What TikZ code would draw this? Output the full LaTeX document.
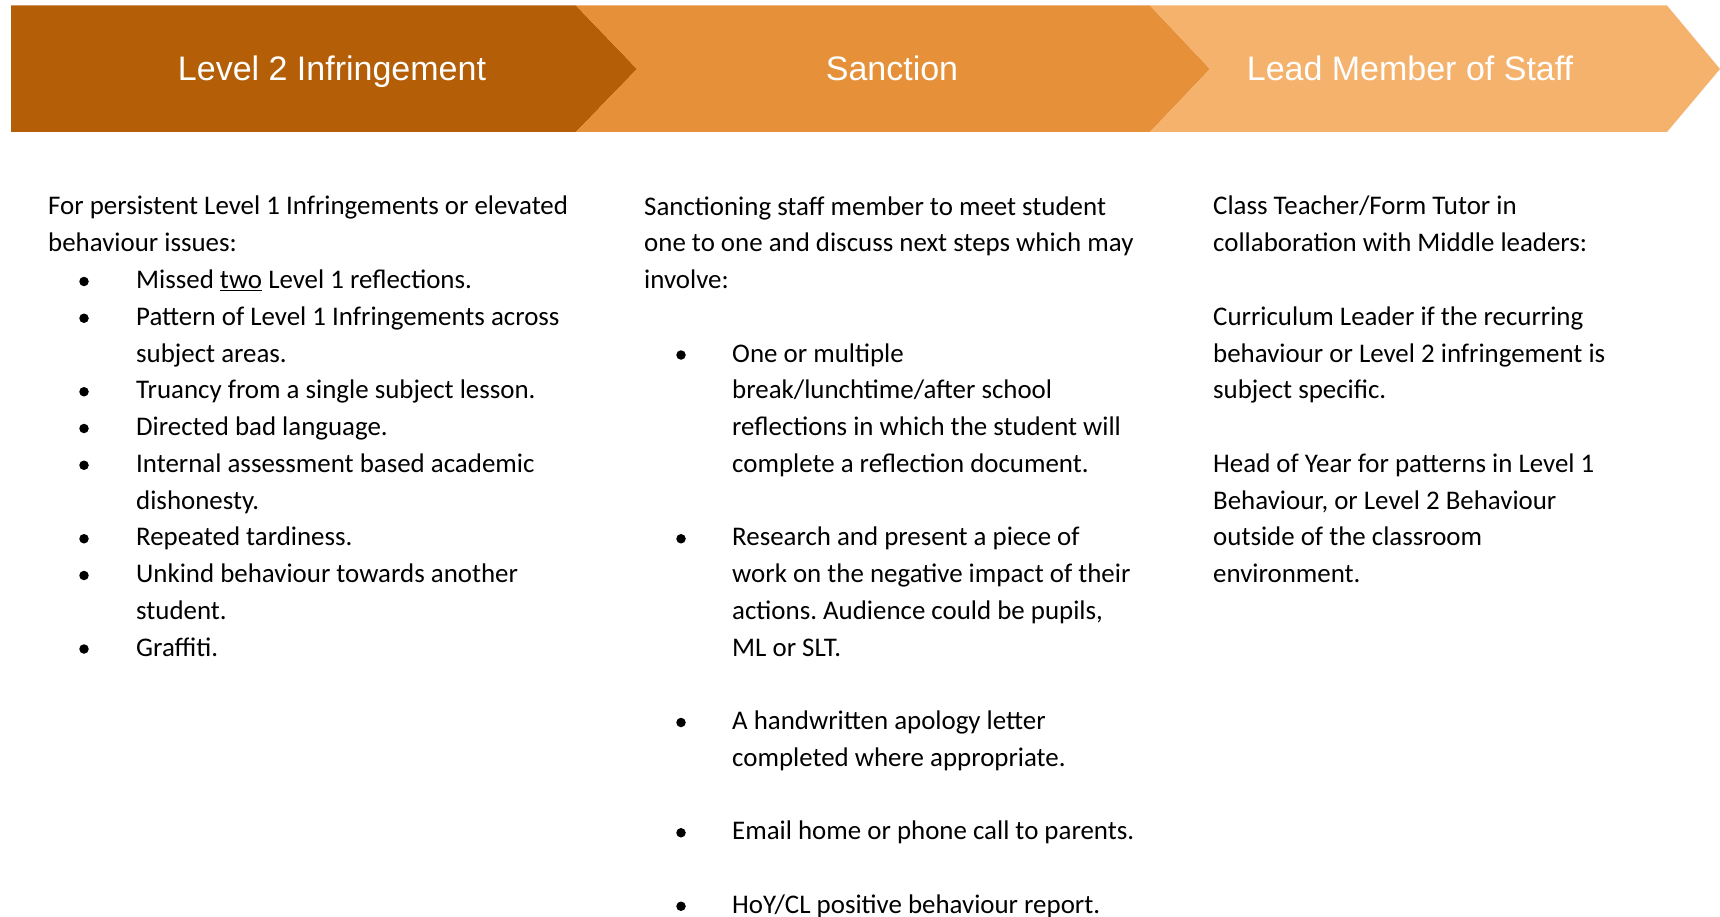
\documentclass[tikz,border=0pt]{standalone}
\usepackage{fontspec}
\setmainfont{Carlito}
\newfontfamily\headfont{Liberation Sans}
\usetikzlibrary{positioning}
\frenchspacing

\definecolor{levelbrown}{HTML}{B45E08}
\definecolor{sanctionorange}{HTML}{E6913A}
\definecolor{staffpeach}{HTML}{F5B26C}

\tikzset{
	head/.style = {text = white, font = \headfont\fontsize{34}{40}\selectfont, anchor = base},
	body/.style = {text = black, font = \fontsize{26.9}{36.75}\selectfont, align = left, anchor = base west, inner sep = 0pt},
	bulletdot/.style = {circle, fill, black, inner sep = 0pt, minimum size = 9.5pt}
}

\begin{document}
\begin{tikzpicture}[x = 1pt, y = -1pt]
			\useasboundingbox (0,0) rectangle (1720,917);
			
			\fill[levelbrown] (11,5.5) -- (576,5.5) -- (637,69) -- (576,132) -- (11,132) -- cycle;
			\fill[sanctionorange] (576,5.5) -- (1150,5.5) -- (1210,69) -- (1150,132) -- (576,132) -- (637,69) -- cycle;
			\fill[staffpeach] (1150,5.5) -- (1667,5.5) -- (1720,69) -- (1667,132) -- (1150,132) -- (1210,69) -- cycle;
			
			\node[head] (H1) at (332,81) {Level 2 Infringement};
			\node[head] (H2) at (892,81) {Sanction};
			\node[head] (H3) at (1410,81) {Lead Member of Staff};
			
			\node[body] (L0) at (48,251.75) {For persistent Level 1 Infringements or elevated\\behaviour issues:};
			\node[body] (L1) at (136,288.5) {Missed \underline{two} Level 1 reflections.};
			\node[body] (L2) at (136,362) {Pattern of Level 1 Infringements across\\subject areas.};
			\node[body] (L3) at (136,398.75) {Truancy from a single subject lesson.};
			\node[body] (L4) at (136,435.5) {Directed bad language.};
			\node[body] (L5) at (136,509) {Internal assessment based academic\\dishonesty.};
			\node[body] (L6) at (136,545.75) {Repeated tardiness.};
			\node[body] (L7) at (136,619.25) {Unkind behaviour towards another\\student.};
			\node[body] (L8) at (136,656) {Graffiti.};
			
			\node[bulletdot] (LB1) at (84,281.5) {};
			\node[bulletdot] (LB2) at (84,318.25) {};
			\node[bulletdot] (LB3) at (84,391.75) {};
			\node[bulletdot] (LB4) at (84,428.5) {};
			\node[bulletdot] (LB5) at (84,465.25) {};
			\node[bulletdot] (LB6) at (84,538.75) {};
			\node[bulletdot] (LB7) at (84,575.5) {};
			\node[bulletdot] (LB8) at (84,649) {};
			
			\node[body] (S0) at (644,288.5) {Sanctioning staff member to meet student\\one to one and discuss next steps which may\\involve:};
			\node[body] (S1) at (732,472.25) {One or multiple\\break/lunchtime/after school\\reflections in which the student will\\complete a reflection document.};
			\node[body] (S2) at (732,656) {Research and present a piece of\\work on the negative impact of their\\actions. Audience could be pupils,\\ML or SLT.};
			\node[body] (S3) at (732,766.25) {A handwritten apology letter\\completed where appropriate.};
			\node[body] (S4) at (732,839.75) {Email home or phone call to parents.};
			\node[body] (S5) at (732,913.25) {HoY/CL positive behaviour report.};
			
			\node[bulletdot] (SB1) at (681,355) {};
			\node[bulletdot] (SB2) at (681,538.75) {};
			\node[bulletdot] (SB3) at (681,722.5) {};
			\node[bulletdot] (SB4) at (681,832.75) {};
			\node[bulletdot] (SB5) at (681,906.25) {};
			
			\node[body] (M0) at (1213,251.75) {Class Teacher/Form Tutor in\\collaboration with Middle leaders:};
			\node[body] (M1) at (1213,398.75) {Curriculum Leader if the recurring\\behaviour or Level 2 infringement is\\subject specific.};
			\node[body] (M2) at (1213,582.5) {Head of Year for patterns in Level 1\\Behaviour, or Level 2 Behaviour\\outside of the classroom\\environment.};
\end{tikzpicture}
\end{document}
